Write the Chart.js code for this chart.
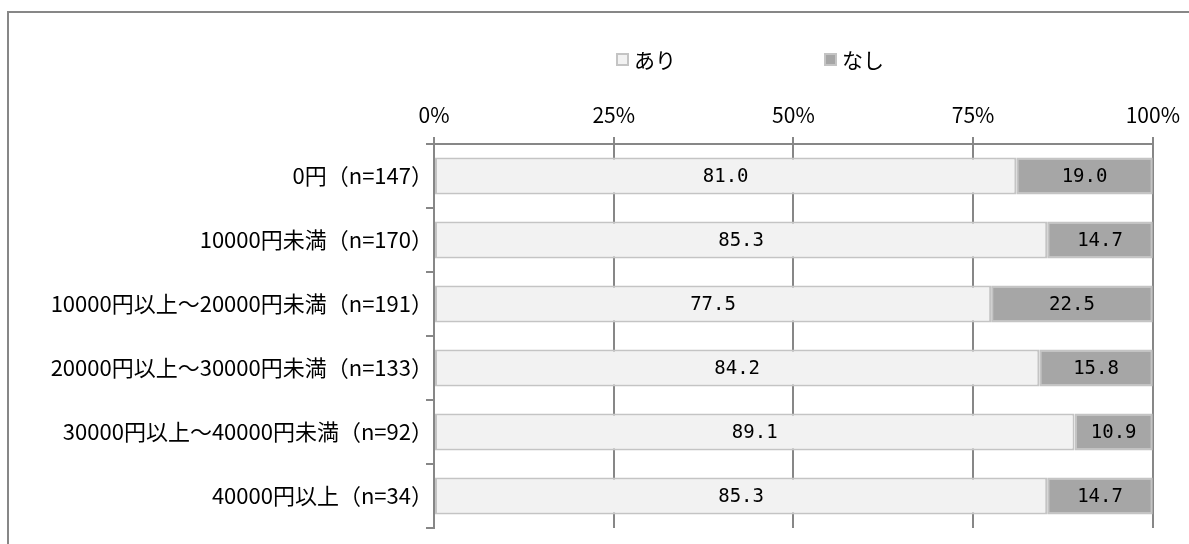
<!DOCTYPE html>
<html lang="ja">
<head>
<meta charset="utf-8">
<script src="https://cdn.jsdelivr.net/npm/chart.js@4.4.1/dist/chart.umd.min.js"></script>
<style>
  body { margin: 0; background: #fff; }
  #wrap { position: relative; width: 1189px; height: 544px; overflow: hidden; }
  #frame { position: absolute; left: 7px; top: 11px; width: 1300px; height: 700px;
           border-top: 2px solid #878787; border-left: 2px solid #878787; }
  #legend { position: absolute; left: 0; top: 0; }
  .lg-item { position: absolute; top: 45px; height: 28px; display: flex; align-items: center;
             white-space: nowrap; font-family: "Noto Sans CJK JP", sans-serif; font-size: 21px; color: #000; }
  .lg-box { width: 9px; height: 9px; margin-right: 5px; border: 2px solid #c4c4c4; }
  canvas { position: absolute; left: 0; top: 0; }
</style>
</head>
<body>
<div id="wrap">
  <div id="frame"></div>
  <canvas id="chart" width="1189" height="544"></canvas>
  <div id="legend"></div>
</div>
<script>
// カテゴリ（月額）
const categories = [
  '0円（n=147）',
  '10000円未満（n=170）',
  '10000円以上～20000円未満（n=191）',
  '20000円以上～30000円未満（n=133）',
  '30000円以上～40000円未満（n=92）',
  '40000円以上（n=34）'
];
// 系列の値（%）
const ariValues = [81.0, 85.3, 77.5, 84.2, 89.1, 85.3];
const nashiValues = [19.0, 14.7, 22.5, 15.8, 10.9, 14.7];
// 目盛り
const tickValues = [0, 25, 50, 75, 100];

const seriesNames = ['あり', 'なし'];
const fillColors = ['#f2f2f2', '#a6a6a6'];
const edgeColor = '#c4c4c4';
const lineGray = '#878787';
const labelFont = "'Noto Sans CJK JP', sans-serif";

// バーの中央に値を描く
const valueLabels = {
  id: 'valueLabels',
  afterDatasetsDraw(chart) {
    const ctx = chart.ctx;
    ctx.save();
    ctx.font = "19px 'DejaVu Sans Mono', monospace";
    ctx.fillStyle = '#000';
    ctx.textAlign = 'center';
    ctx.textBaseline = 'middle';
    chart.data.datasets.forEach((ds, i) => {
      chart.getDatasetMeta(i).data.forEach((bar, j) => {
        const p = bar.getCenterPoint();
        ctx.fillText(ds.data[j].toFixed(1), p.x, p.y + 1);
      });
    });
    ctx.restore();
  }
};

const chart = new Chart(document.getElementById('chart'), {
  type: 'bar',
  data: {
    labels: categories,
    datasets: [
      { label: seriesNames[0], data: ariValues, backgroundColor: fillColors[0],
        borderColor: edgeColor, borderWidth: 2, borderSkipped: false },
      { label: seriesNames[1], data: nashiValues, backgroundColor: fillColors[1],
        borderColor: edgeColor, borderWidth: 2, borderSkipped: false }
    ]
  },
  options: {
    indexAxis: 'y',
    responsive: false,
    animation: false,
    layout: { padding: { left: 0, right: 35, top: 0, bottom: 16 } },
    datasets: { bar: { barPercentage: 0.58, categoryPercentage: 1 } },
    plugins: { legend: { display: false }, tooltip: { enabled: false } },
    scales: {
      x: {
        position: 'top',
        stacked: true,
        min: 0,
        max: 100,
        afterBuildTicks: (scale) => { scale.ticks = tickValues.map(v => ({ value: v })); },
        afterFit: (scale) => { scale.height = 144; },
        ticks: {
          callback: (v) => v + '%',
          font: { family: labelFont, size: 21 },
          color: '#000',
          padding: 9,
          maxRotation: 0
        },
        grid: { color: lineGray, lineWidth: 2, tickLength: 7 },
        border: { color: lineGray, width: 2 }
      },
      y: {
        stacked: true,
        afterFit: (scale) => { scale.width = 434; },
        ticks: { font: { family: labelFont, size: 22 }, color: '#000', padding: -7 },
        grid: { offset: true, drawOnChartArea: false, color: lineGray, lineWidth: 2, tickLength: 8 },
        border: { color: lineGray, width: 2 }
      }
    }
  },
  plugins: [valueLabels]
});

// 凡例（HTML）
const legendX = [616, 824];
const legend = document.getElementById('legend');
chart.data.datasets.forEach((ds, i) => {
  const item = document.createElement('div');
  item.className = 'lg-item';
  item.style.left = legendX[i] + 'px';
  const box = document.createElement('span');
  box.className = 'lg-box';
  box.style.background = ds.backgroundColor;
  item.appendChild(box);
  item.appendChild(document.createTextNode(ds.label));
  legend.appendChild(item);
});
</script>
</body>
</html>
